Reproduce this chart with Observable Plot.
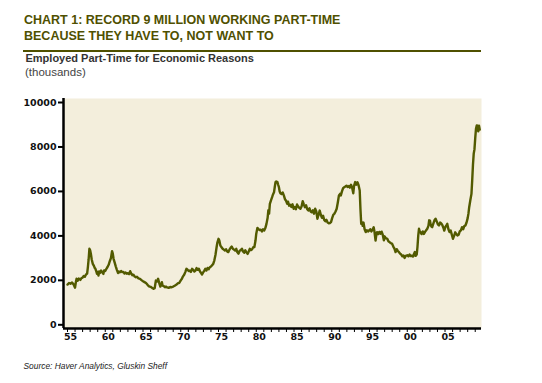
<!DOCTYPE html>
<html>
<head>
<meta charset="utf-8">
<script src="https://cdn.jsdelivr.net/npm/d3@7"></script>
<script src="https://cdn.jsdelivr.net/npm/@observablehq/plot@0.6"></script>
<style>
  html, body { margin: 0; padding: 0; background: #ffffff; }
  #wrap { position: relative; width: 542px; height: 383px; overflow: hidden; font-family: "Liberation Sans", Arial, sans-serif; }
  .t { position: absolute; white-space: nowrap; }
  #title { left: 24px; top: 12.8px; font-size: 12.5px; font-weight: bold; line-height: 15.7px; color: #4f5000; }
  #rule { position: absolute; left: 23px; top: 50px; width: 458px; height: 2px; background: #4f5000; }
  #sub { left: 25.5px; top: 52px; font-size: 11px; font-weight: bold; line-height: 13px; color: #333333; }
  #unit { left: 25px; top: 65.5px; font-size: 11.5px; line-height: 13px; color: #444444; }
  #src { left: 23.5px; top: 360.6px; font-size: 8.4px; font-style: italic; line-height: 10px; color: #222222; }
  #chart { position: absolute; left: 0; top: 88px; }
</style>
</head>
<body>
<div id="wrap">
  <div class="t" id="title">CHART 1: RECORD 9 MILLION WORKING PART-TIME<br>BECAUSE THEY HAVE TO, NOT WANT TO</div>
  <div id="rule"></div>
  <div class="t" id="sub">Employed Part-Time for Economic Reasons</div>
  <div class="t" id="unit">(thousands)</div>
  <div id="chart"></div>
  <div class="t" id="src">Source: Haver Analytics, Gluskin Sheff</div>
</div>
<script>
// Decimal year and thousands of persons
const years = [
1955.0,1955.2,1955.4,1955.6,1955.8,1956.0,1956.1,1956.2,1956.35,1956.5,1956.7,1956.85,1957.0,1957.15,1957.3,1957.45,1957.6,1957.7,1957.8,1957.9,
1958.0,1958.1,1958.2,1958.35,1958.5,1958.6,1958.7,1958.8,1958.9,1959.0,1959.1,1959.2,1959.3,1959.45,1959.6,1959.75,1959.85,
1960.0,1960.15,1960.3,1960.45,1960.6,1960.75,1960.9,1961.0,1961.1,1961.25,1961.4,1961.55,1961.7,1961.8,1961.95,
1962.1,1962.25,1962.4,1962.55,1962.7,1962.85,1963.0,1963.15,1963.3,1963.45,1963.6,1963.75,1963.9,
1964.05,1964.2,1964.4,1964.6,1964.8,1965.0,1965.2,1965.4,1965.6,1965.8,1966.0,1966.2,1966.4,1966.55,1966.7,1966.85,
1967.0,1967.15,1967.3,1967.4,1967.5,1967.6,1967.75,1967.9,1968.05,1968.2,1968.4,1968.6,1968.8,1969.0,1969.2,1969.4,1969.6,1969.8,
1970.0,1970.15,1970.3,1970.45,1970.6,1970.75,1970.9,1971.05,1971.2,1971.35,1971.5,1971.65,1971.8,1971.95,
1972.1,1972.25,1972.4,1972.55,1972.7,1972.8,1972.95,1973.1,1973.25,1973.4,1973.55,1973.7,1973.85,
1974.0,1974.15,1974.3,1974.45,1974.6,1974.75,1974.85,1975.0,1975.1,1975.25,1975.4,1975.55,1975.7,1975.85,
1976.0,1976.15,1976.3,1976.45,1976.6,1976.75,1976.9,1977.05,1977.2,1977.35,1977.5,1977.65,1977.8,1977.95,
1978.1,1978.25,1978.4,1978.55,1978.7,1978.85,1979.0,1979.15,1979.3,1979.45,1979.6,1979.75,1979.9,
1980.0,1980.15,1980.3,1980.45,1980.6,1980.75,1980.9,1981.05,1981.2,1981.35,1981.5,1981.6,1981.7,1981.8,1981.95,
1982.1,1982.2,1982.35,1982.45,1982.55,1982.65,1982.8,1982.9,1983.0,1983.1,1983.2,1983.35,1983.5,1983.65,1983.8,1983.95,
1984.1,1984.2,1984.35,1984.5,1984.65,1984.8,1984.95,1985.1,1985.25,1985.4,1985.55,1985.7,1985.85,
1986.0,1986.15,1986.3,1986.45,1986.6,1986.75,1986.9,1987.05,1987.2,1987.35,1987.5,1987.65,1987.8,1987.95,
1988.1,1988.25,1988.4,1988.55,1988.7,1988.85,1989.0,1989.15,1989.3,1989.45,1989.6,1989.75,1989.9,
1990.05,1990.2,1990.35,1990.5,1990.65,1990.8,1990.95,1991.1,1991.2,1991.35,1991.5,1991.65,1991.8,1991.95,
1992.1,1992.25,1992.4,1992.55,1992.7,1992.85,1992.95,1993.1,1993.25,1993.4,1993.55,1993.7,1993.8,1993.9,
1994.0,1994.1,1994.2,1994.35,1994.5,1994.65,1994.8,1994.95,1995.1,1995.25,1995.4,1995.55,1995.65,1995.8,1995.9,
1996.0,1996.15,1996.3,1996.45,1996.6,1996.75,1996.9,1997.0,1997.15,1997.35,1997.5,1997.65,1997.8,
1998.0,1998.15,1998.3,1998.45,1998.6,1998.75,1998.9,1999.05,1999.2,1999.35,1999.5,1999.65,1999.8,
2000.0,2000.15,2000.3,2000.45,2000.6,2000.75,2000.9,2001.0,2001.1,2001.25,2001.35,2001.45,2001.55,2001.65,2001.75,2001.9,
2002.05,2002.2,2002.35,2002.5,2002.65,2002.8,2002.9,2003.0,2003.1,2003.2,2003.3,2003.45,2003.6,2003.75,2003.9,
2004.05,2004.2,2004.35,2004.5,2004.65,2004.8,2004.9,2005.05,2005.2,2005.3,2005.45,2005.6,2005.75,2005.9,
2006.05,2006.2,2006.35,2006.5,2006.65,2006.8,2006.95,2007.1,2007.25,2007.4,2007.55,2007.7,2007.85,
2008.0,2008.1,2008.2,2008.35,2008.5,2008.6,2008.7,2008.8,2008.9,2009.0,2009.1,2009.2,2009.3,2009.4,2009.5,2009.6
];
const values = [
1810,1880,1850,1900,1820,1670,1900,2070,1980,2080,2020,2100,2120,2200,2160,2260,2300,2600,2950,3420,
3350,3190,2950,2740,2650,2560,2520,2420,2300,2380,2220,2400,2330,2440,2360,2290,2450,
2420,2520,2600,2700,2860,3000,3310,3200,2970,2800,2620,2460,2330,2400,2360,
2420,2370,2380,2310,2350,2300,2320,2280,2410,2300,2230,2250,2170,
2140,2160,2090,2070,2010,1960,1920,1880,1800,1730,1710,1660,1620,1650,1990,1950,
2070,1880,1720,1800,1920,1760,1740,1690,1720,1680,1660,1700,1690,1720,1760,1800,1860,1890,
2000,2070,2180,2250,2370,2520,2480,2420,2440,2380,2520,2470,2400,2440,
2550,2480,2520,2400,2330,2260,2350,2430,2520,2440,2560,2500,2590,
2620,2680,2740,2900,3150,3500,3700,3870,3800,3560,3490,3420,3380,3340,
3400,3300,3270,3380,3460,3520,3420,3380,3340,3420,3260,3200,3330,3360,
3420,3300,3240,3350,3260,3190,3300,3420,3360,3400,3490,3500,3790,
4100,4360,4300,4260,4280,4200,4300,4240,4350,4540,4800,5150,5000,5440,5600,
5740,5850,5960,6200,6420,6450,6420,6300,6190,6000,5920,5880,5950,5820,5650,5580,
5440,5540,5360,5400,5300,5420,5220,5300,5200,5410,5320,5260,5220,
5320,5560,5420,5290,5380,5200,5140,5240,5100,5060,5150,5000,5220,5100,
4770,4950,5140,4950,4810,4900,4720,4660,4720,4600,4570,4580,4620,
4800,4950,5000,5100,5220,5500,5820,5890,5820,6000,6150,6190,6220,6260,
6200,6240,6170,6300,6160,5920,6250,6420,6300,6410,6280,6040,5200,4540,
4610,4450,4600,4300,4170,4250,4200,4240,4300,4200,4280,4390,4200,3790,4050,
4170,4080,4180,4100,4190,4050,3800,3980,3900,3870,3760,3720,3680,
3640,3520,3430,3270,3400,3320,3270,3200,3160,3080,3120,3010,3100,
3130,3080,3160,3090,3110,3070,3200,3270,3100,3160,3500,4000,4320,4200,4170,4080,
4200,4090,4180,4250,4320,4450,4700,4690,4500,4420,4390,4550,4700,4770,4650,
4520,4470,4600,4560,4480,4350,4240,4400,4480,4540,4300,4170,4240,4050,
3870,4000,4160,4080,4020,4050,4200,4250,4390,4300,4440,4470,4600,
4800,5000,5290,5600,5890,6500,7200,7700,7900,8400,8820,8970,8960,8700,8960,8780
];
const yTicks = [0, 2000, 4000, 6000, 8000, 10000];
const tickYears = d3.range(1955, 2010);
const labelYears = [1955, 1960, 1965, 1970, 1975, 1980, 1985, 1990, 1995, 2000, 2005];

const series = years.map((y, i) => ({year: y, value: values[i]}));
const xDomain = [1954.47, 2009.83];
const yDomain = [-166, 10180];

const chart = Plot.plot({
  width: 542,
  height: 262,
  marginTop: 10,
  marginBottom: 22,
  marginLeft: 63,
  marginRight: 61,
  x: {domain: xDomain},
  y: {domain: yDomain},
  style: {background: "transparent", overflow: "visible"},
  marks: [
    Plot.frame({fill: "#f3eedc", stroke: null}),
    Plot.line(series, {x: "year", y: "value", stroke: "#525a00", strokeWidth: 2.4, strokeLinejoin: "round"}),
    Plot.axisY({ticks: yTicks, tickSize: 5, tickPadding: 2, strokeWidth: 2, stroke: "#000",
      fontSize: 9.5, fontFamily: "DejaVu Sans", fontWeight: "bold", fill: "#111", label: null, tickFormat: d => String(d)}),
    Plot.axisX({ticks: tickYears, tickSize: 4, strokeWidth: 1, stroke: "#000", tickFormat: () => "", label: null}),
    Plot.axisX({ticks: labelYears, tickSize: 0, tickPadding: 5, dx: 3, fontSize: 9.5, fontFamily: "DejaVu Sans",
      fontWeight: "bold", fill: "#111", label: null, tickFormat: d => String(d % 100).padStart(2, "0")}),
    Plot.ruleX([xDomain[0]], {stroke: "#000", strokeWidth: 2.5}),
    Plot.ruleY([yDomain[0]], {stroke: "#000", strokeWidth: 2.7})
  ]
});
document.getElementById("chart").appendChild(chart);
</script>
</body>
</html>
